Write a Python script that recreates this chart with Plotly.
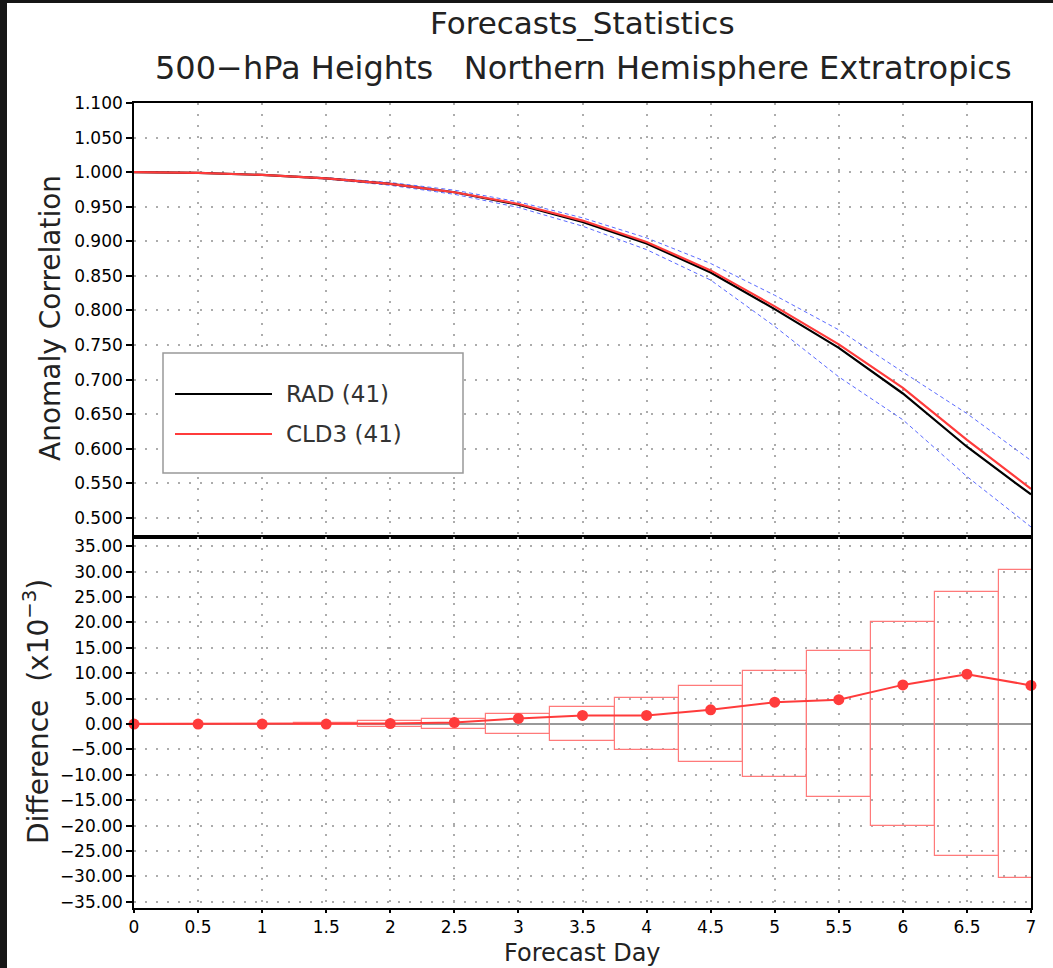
import plotly.graph_objects as go
from plotly.subplots import make_subplots

# forecast days and scores
days = [0, 0.5, 1, 1.5, 2, 2.5, 3, 3.5, 4, 4.5, 5, 5.5, 6, 6.5, 7]
rad = [1.000, 0.999, 0.996, 0.991, 0.983, 0.971, 0.953, 0.928, 0.897, 0.855, 0.802, 0.746, 0.680, 0.603, 0.534]
cld3 = [1.000, 0.999, 0.996, 0.991, 0.983, 0.971, 0.954, 0.930, 0.899, 0.858, 0.806, 0.751, 0.688, 0.613, 0.542]
upper = [1.000, 0.999, 0.996, 0.992, 0.985, 0.974, 0.957, 0.934, 0.905, 0.868, 0.822, 0.772, 0.711, 0.651, 0.583]
lower = [1.000, 0.999, 0.996, 0.990, 0.981, 0.968, 0.949, 0.922, 0.888, 0.844, 0.777, 0.704, 0.642, 0.560, 0.487]

# CLD3 - RAD difference (x1e-3) and half height of significance boxes
diff = [0.0, 0.0, 0.0, 0.0, 0.1, 0.3, 1.1, 1.7, 1.7, 2.8, 4.3, 4.8, 7.7, 9.8, 7.6]
sig = [0.0, 0.0, 0.05, 0.25, 0.6, 1.0, 1.95, 3.3, 5.05, 7.5, 10.35, 14.35, 20.15, 26.05, 30.35]

names = ["RAD (41)", "CLD3 (41)"]
colors = ["black", "#ff3b3b"]

W, H = 1053, 968
L, R, T, B = 134, 22, 103, 60
plot_w = W - L - R
plot_h = H - T - B
top_h = 434


def px(x):
    return (x - L) / plot_w


def py(y):
    return (H - B - y) / plot_h


fig = make_subplots(rows=2, cols=1, shared_xaxes=True, vertical_spacing=0,
                    row_heights=[top_h / plot_h, 1 - top_h / plot_h])

blue = dict(color="#5a6aff", width=1, dash="4px,3px")
fig.add_trace(go.Scatter(x=days, y=upper, mode="lines", line=blue, showlegend=False), row=1, col=1)
fig.add_trace(go.Scatter(x=days, y=lower, mode="lines", line=blue, showlegend=False), row=1, col=1)
fig.add_trace(go.Scatter(x=days, y=rad, mode="lines", line=dict(color=colors[0], width=2.2),
                         showlegend=False), row=1, col=1)
fig.add_trace(go.Scatter(x=days, y=cld3, mode="lines", line=dict(color=colors[1], width=2.2),
                         showlegend=False), row=1, col=1)

# significance boxes
fig.add_trace(go.Bar(x=days, y=[2 * s for s in sig], base=[-s for s in sig], width=0.5,
                     marker=dict(color="rgba(0,0,0,0)", line=dict(color="#ff7a7a", width=1.2)),
                     showlegend=False), row=2, col=1)
fig.add_trace(go.Scatter(x=days, y=diff, mode="lines+markers", line=dict(color=colors[1], width=2),
                         marker=dict(size=11, color=colors[1]), cliponaxis=False,
                         showlegend=False), row=2, col=1)

grid = dict(showgrid=True, gridcolor="#acacac", gridwidth=2, griddash="2px,9px")
axline = dict(showline=True, linecolor="black", linewidth=1.6, mirror=True)
tickfont = dict(family="DejaVu Sans", size=17, color="black")

fig.update_xaxes(range=[0, 7], dtick=0.5, zeroline=False, **grid, **axline)
fig.update_xaxes(showticklabels=False, ticks="", row=1, col=1)
fig.update_xaxes(ticks="outside", ticklen=3, tickwidth=1.5, tickcolor="black",
                 tickvals=days, ticktext=[f"{d:g}" for d in days], tickfont=tickfont, row=2, col=1)

fig.update_yaxes(range=[0.4725, 1.1], tick0=0.5, dtick=0.05, tickformat=".3f", zeroline=False,
                 ticks="outside", ticklen=6, tickwidth=1.5, tickcolor="black", tickfont=tickfont,
                 **grid, **axline, row=1, col=1)
fig.update_yaxes(range=[-36.2, 36.8], tick0=-35, dtick=5, tickformat=".2f",
                 zeroline=True, zerolinecolor="#999999", zerolinewidth=2,
                 ticks="outside", ticklen=6, tickwidth=1.5, tickcolor="black", tickfont=tickfont,
                 **grid, **axline, row=2, col=1)

txt = dict(family="DejaVu Sans", color="#222222")
ann = [
    dict(text="Forecasts_Statistics", x=px(582), y=py(23), font=dict(size=31, **txt)),
    dict(text="500\u2212hPa Heights   Northern Hemisphere Extratropics", x=px(583), y=py(68),
         font=dict(size=32, **txt)),
    dict(text="Anomaly Correlation", x=px(50), y=py(318), textangle=-90, font=dict(size=28, **txt)),
    dict(text="Difference  (x10<sup>\u22123</sup>)", x=px(36), y=py(712), textangle=-90,
         font=dict(size=28, **txt)),
    dict(text="Forecast Day", x=px(582), y=py(953), font=dict(size=24, **txt)),
]
# legend drawn by hand: long line samples in a framed box
for i, (n, c) in enumerate(zip(names, colors)):
    yy = 394 + 40 * i
    ann.append(dict(text=n, x=px(284), y=py(yy), xanchor="left",
                    font=dict(size=23, family="DejaVu Sans", color="#333333")))
for a in ann:
    a.setdefault("xanchor", "center")
    a.update(xref="paper", yref="paper", yanchor="middle", showarrow=False)

shapes = [
    dict(type="rect", xref="paper", yref="paper", x0=px(163), x1=px(463), y0=py(473), y1=py(353),
         line=dict(color="#999999", width=1.5), fillcolor="white", layer="above"),
]
for i, c in enumerate(colors):
    yy = 394 + 40 * i
    shapes.append(dict(type="line", xref="paper", yref="paper", x0=px(175), x1=px(272), y0=py(yy), y1=py(yy),
                       line=dict(color=c, width=2)))
# dark strips at the left and top edge of the screenshot
shapes.append(dict(type="rect", xref="paper", yref="paper", x0=px(0), x1=px(7), y0=py(H), y1=py(0),
                   fillcolor="#161616", line=dict(width=0)))
shapes.append(dict(type="rect", xref="paper", yref="paper", x0=px(0), x1=px(W), y0=py(3), y1=py(0),
                   fillcolor="#161616", line=dict(width=0)))

fig.update_layout(width=W, height=H, margin=dict(l=L, r=R, t=T, b=B),
                  plot_bgcolor="white", paper_bgcolor="white",
                  annotations=ann, shapes=shapes, showlegend=False, bargap=0)

fig.write_html("out.html", config={"displayModeBar": False},
               post_script="document.body.style.margin='0px';")
